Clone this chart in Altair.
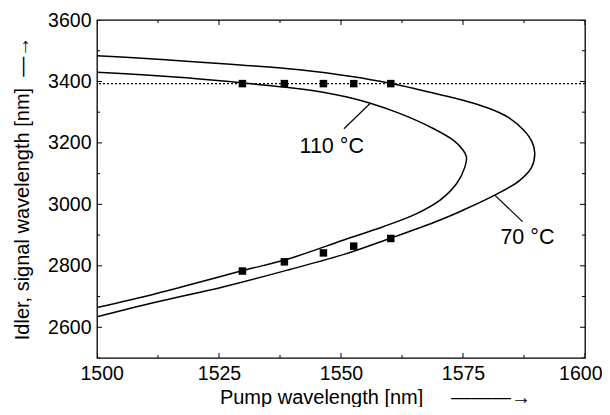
import altair as alt
import pandas as pd

# ---- data ----
c70_x = [1500, 1510, 1519, 1530, 1541.5, 1552.5, 1560, 1565, 1569.5, 1574, 1578, 1581.5, 1584.3,
         1587.4, 1589.1, 1589.7, 1589.1, 1586.7, 1581.5, 1575, 1570.3, 1566, 1560, 1550.8, 1539.5,
         1525.8, 1512.2, 1500]
c70_y = [3484, 3475, 3465, 3453, 3438, 3415, 3394, 3377, 3360, 3343, 3325, 3305, 3283,
         3242, 3205, 3168, 3122, 3079, 3030, 2981, 2949, 2923, 2889, 2838, 2788,
         2731, 2682, 2634]
c110_x = [1500, 1510, 1519, 1527, 1533, 1540, 1546, 1551, 1556, 1562, 1568.9, 1573, 1575, 1575.7,
          1575.4, 1573.7, 1570.3, 1565.5, 1558.6, 1550.4, 1539.5, 1529.6, 1512.2, 1500]
c110_y = [3430, 3421, 3411, 3400, 3390, 3379, 3366, 3350, 3329, 3296, 3247, 3209, 3177, 3155,
          3122, 3068, 3014, 2970, 2927, 2883, 2824, 2783, 2710, 2664]
meas_x = [1529.8, 1538.4, 1546.4, 1552.6, 1560.2]
meas_top = [3393, 3393, 3393, 3393, 3393]
meas_bottom = [2783, 2813, 2842, 2864, 2889]
ref_line = 3393
x_major = [1500, 1525, 1550, 1575, 1600]
x_minor = [1512.5, 1537.5, 1562.5, 1587.5]
y_major = [2600, 2800, 3000, 3200, 3400, 3600]
y_minor = [2500, 2700, 2900, 3100, 3300, 3500]
labels = ["110 °C", "70 °C"]
label_x = [1548.1, 1588.2]
label_y = [3187, 2889]
lead_x = [1556.0, 1581.5]
lead_y = [3329, 3030]
lead_x2 = [1550.6, 1587.2]
lead_y2 = [3246, 2944]

FONT = "Liberation Sans"
XD = [1500, 1600]
YD = [2500, 3600]
NB = "\u00a0"

xs = alt.Scale(domain=XD, nice=False, zero=False)
ys = alt.Scale(domain=YD, nice=False, zero=False)

x_axis = alt.Axis(values=x_major, format="d", grid=False, ticks=False, tickSize=0, domain=False,
                  labelFont=FONT, labelFontSize=19.5, labelColor="black", labelPadding=6,
                  labelFlush=True, labelFlushOffset=17,
                  title="Pump wavelength [nm]" + NB * 5 + "―――→", titleFont=FONT, titleFontSize=20,
                  titleFontWeight="normal", titleColor="black", titleX=278, titleY=45,
                  titleBaseline="alphabetic", titleAlign="center")
y_axis = alt.Axis(values=y_major, format="d", grid=False, ticks=False, tickSize=0, domain=False,
                  labelFont=FONT, labelFontSize=19.5, labelColor="black", labelPadding=6,
                  labelFlush=False,
                  title="Idler, signal wavelength [nm]" + NB * 2 + "―→", titleFont=FONT,
                  titleFontSize=20, titleFontWeight="normal", titleColor="black", titleX=-69,
                  titleY=168, titleAngle=270, titleBaseline="alphabetic", titleAlign="center")


def X(field="x"):
    return alt.X(f"{field}:Q", scale=xs, axis=x_axis)


def Y(field="y"):
    return alt.Y(f"{field}:Q", scale=ys, axis=y_axis)


rows = []
for name, cx, cy in [("70", c70_x, c70_y), ("110", c110_x, c110_y)]:
    for i, (a, b) in enumerate(zip(cx, cy)):
        rows.append({"x": a, "y": b, "curve": name, "i": i})
curves_df = pd.DataFrame(rows)

pts_df = pd.DataFrame({"x": meas_x + meas_x, "y": meas_top + meas_bottom})
ref_df = pd.DataFrame({"y": [ref_line]})
lab_df = pd.DataFrame({"x": label_x, "y": label_y, "t": labels})
lead_df = pd.DataFrame({"x": lead_x, "y": lead_y, "x2": lead_x2, "y2": lead_y2})

xt_major = pd.DataFrame({"x": x_major * 2, "y": [YD[0]] * len(x_major) + [YD[1]] * len(x_major)})
xt_minor = pd.DataFrame({"x": x_minor * 2, "y": [YD[0]] * len(x_minor) + [YD[1]] * len(x_minor)})
yt_major = pd.DataFrame({"y": y_major * 2, "x": [XD[0]] * len(y_major) + [XD[1]] * len(y_major)})
yt_minor = pd.DataFrame({"y": y_minor * 2, "x": [XD[0]] * len(y_minor) + [XD[1]] * len(y_minor)})

curves = alt.Chart(curves_df).mark_line(color="black", strokeWidth=1.5, interpolate="catmull-rom",
                                        clip=True).encode(
    x=X(), y=Y(), detail="curve:N", order="i:Q")
pts = alt.Chart(pts_df).mark_square(color="black", size=56, opacity=1).encode(x=X(), y=Y())
ref = alt.Chart(ref_df).mark_rule(color="black", strokeDash=[2, 2], strokeWidth=1.2).encode(y=Y())
leads = alt.Chart(lead_df).mark_rule(color="black", strokeWidth=1.2).encode(
    x=X(), y=Y(), x2="x2:Q", y2="y2:Q")
texts = alt.Chart(lab_df).mark_text(font=FONT, fontSize=21.5, color="black", align="center",
                                    baseline="middle").encode(x=X(), y=Y(), text="t:N")

tk = dict(color="black", thickness=1, clip=True, opacity=1)
ticks = [
    alt.Chart(xt_major).mark_tick(orient="vertical", size=10, **tk).encode(x=X(), y=Y()),
    alt.Chart(xt_minor).mark_tick(orient="vertical", size=6, **tk).encode(x=X(), y=Y()),
    alt.Chart(yt_major).mark_tick(orient="horizontal", size=10, **tk).encode(x=X(), y=Y()),
    alt.Chart(yt_minor).mark_tick(orient="horizontal", size=6, **tk).encode(x=X(), y=Y()),
]

chart = alt.layer(ref, curves, leads, pts, texts, *ticks).properties(
    width=488, height=338,
    autosize=alt.AutoSizeParams(type="none"),
    padding={"left": 89, "top": 12, "right": 17, "bottom": 49},
    background="white",
).configure_view(stroke="black", strokeWidth=1.3)

chart.save("out.html", embed_options={"renderer": "svg", "actions": False})
